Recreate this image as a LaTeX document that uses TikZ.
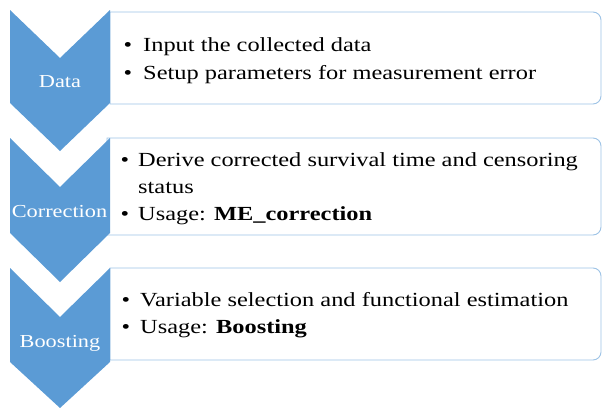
\documentclass[tikz,border=0pt]{standalone}
\usepackage{fontspec}
\setmainfont{Liberation Serif}[FakeStretch=1.22]
\definecolor{chev}{HTML}{5B9BD5}
\definecolor{boxb}{HTML}{9DC3E6}
\tikzset{
  chevron/.style={fill=chev, draw=none},
  panel/.style={draw=boxb, line width=0.9pt, fill=white},
  label/.style={text=white, font=\fontsize{18.3}{22}\selectfont, inner sep=0pt, anchor=base},
  itemtxt/.style={font=\fontsize{20}{28}\selectfont, inner sep=0pt, anchor=base west},
  bul/.style={font=\fontsize{20}{28}\selectfont, inner sep=0pt, anchor=base},
}
\begin{document}
\begin{tikzpicture}[x=1pt,y=-1pt]
\useasboundingbox (0,0) rectangle (602,407);
% panels
\draw[panel] (110,104) -- (110,12) [rounded corners=8pt] -- (601,12) -- (601,104) [sharp corners] -- cycle;
\draw[panel] (107,235) -- (107,138) [rounded corners=8pt] -- (601,138) -- (601,235) [sharp corners] -- cycle;
\draw[panel] (110,360) -- (110,268) [rounded corners=8pt] -- (601,268) -- (601,360) [sharp corners] -- cycle;
% chevrons
\fill[chevron] (10,10) -- (60,58) -- (110,10) -- (110,103) -- (60,151) -- (10,103) -- cycle;
\fill[chevron] (10,138) -- (60,187) -- (110,138) -- (110,233) -- (60,282) -- (10,233) -- cycle;
\fill[chevron] (10,268) -- (60,317) -- (110,268) -- (110,362) -- (60,408) -- (10,362) -- cycle;
% labels
\node[label] (l1) at (60,87) {Data};
\node[label] (l2) at (59.5,217) {Correction};
\node[label] (l3) at (60,347) {Boosting};
% box 1
\node[bul] (b11) at (128,51) {•};
\node[itemtxt] (t11) at (143,51) {Input the collected data};
\node[bul] (b12) at (128,79) {•};
\node[itemtxt] (t12) at (143,79) {Setup parameters for measurement error};
% box 2
\node[bul] (b21) at (125,166) {•};
\node[itemtxt] (t21) at (138,166) {Derive corrected survival time and censoring};
\node[itemtxt] (t22) at (138,193) {status};
\node[bul] (b23) at (125,220) {•};
\node[itemtxt] (t23) at (138,220) {Usage: \textbf{ME\_correction}};
% box 3
\node[bul] (b31) at (126,306) {•};
\node[itemtxt] (t31) at (140,306) {Variable selection and functional estimation};
\node[bul] (b32) at (126,333) {•};
\node[itemtxt] (t32) at (140,333) {Usage: \textbf{Boosting}};
\end{tikzpicture}
\end{document}
